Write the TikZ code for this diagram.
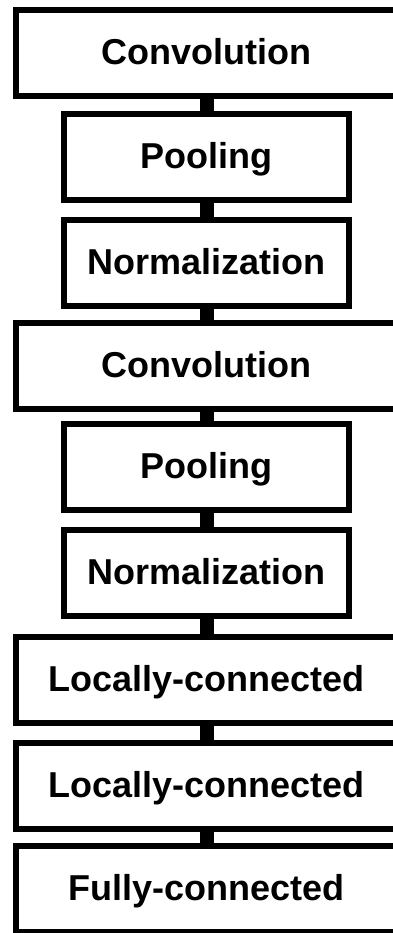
\documentclass[tikz,border=0pt]{standalone}
\usepackage{fontspec}
\setmainfont{Liberation Sans}
\begin{document}
\begin{tikzpicture}[x=1pt,y=-1pt,
  layer/.style={draw=black, fill=white, line width=6pt, inner sep=0pt,
    minimum height=86pt, text height=23pt, text depth=0pt,
    font=\fontsize{36}{43}\selectfont\bfseries},
  wide/.style={layer, minimum width=381pt},
  narrow/.style={layer, minimum width=285pt},
  link/.style={line width=14pt}]
\useasboundingbox (0,0) rectangle (392,933);
\node[wide]   (conv1) at (206.5,53)    {Convolution};
\node[narrow] (pool1) at (206.5,157.5) {Pooling};
\node[narrow] (norm1) at (206.5,263)   {Normalization};
\node[wide]   (conv2) at (206.5,365.5) {Convolution};
\node[narrow] (pool2) at (206.5,467)   {Pooling};
\node[narrow] (norm2) at (206.5,572.5) {Normalization};
\node[wide]   (loc1)  at (206.5,679.5) {Locally-connected};
\node[wide]   (loc2)  at (206.5,786)   {Locally-connected};
\node[wide]   (full)  at (206.5,889)   {Fully-connected};
\foreach \a/\b in {conv1/pool1,pool1/norm1,norm1/conv2,conv2/pool2,
                   pool2/norm2,norm2/loc1,loc1/loc2,loc2/full}
  \draw[link] (\a.south) -- (\b.north);
\end{tikzpicture}
\end{document}
